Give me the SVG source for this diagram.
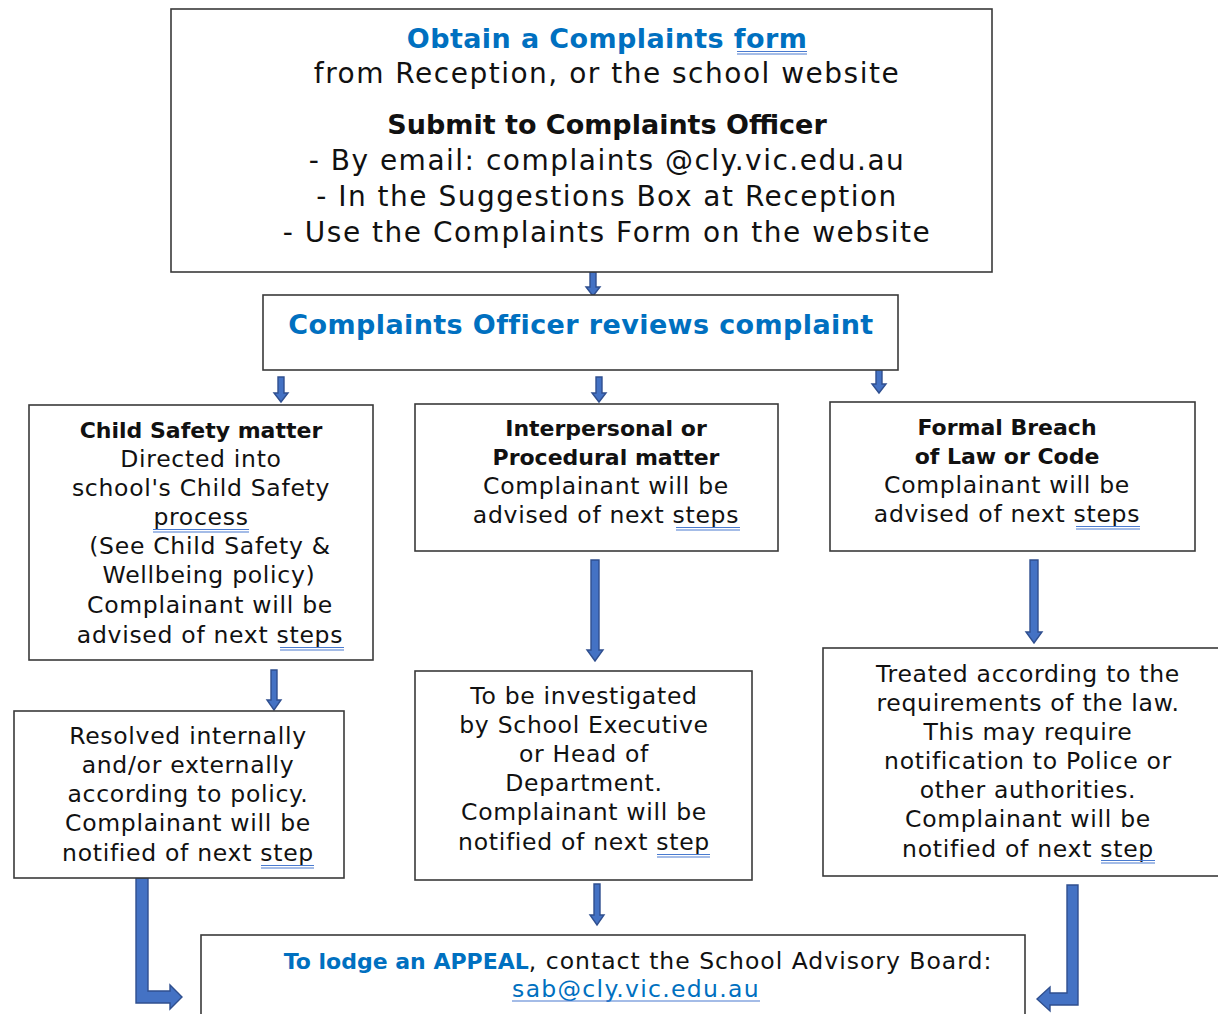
<svg xmlns="http://www.w3.org/2000/svg" width="1218" height="1014" viewBox="0 0 1218 1014">
<style>
.box{fill:#fff;stroke:#3a3a3a;stroke-width:1.6}
text{font-family:"DejaVu Sans","Liberation Sans",sans-serif;text-anchor:middle;fill:#111}
.t1{font-size:28px;letter-spacing:1.5px}
.t1b{font-size:27px;font-weight:bold;letter-spacing:0.4px}
.t2{font-size:23.5px;letter-spacing:0.7px}
.t2b{font-size:22px;font-weight:bold;letter-spacing:0px}
.blue{fill:#0070c0}
.arr{fill:#4472c4;stroke:#2f4f8f;stroke-width:1.4;stroke-linejoin:miter}
.ul{stroke:#4a7bd0;stroke-width:1.2;fill:none}
</style>
<rect width="1218" height="1014" fill="#fff"/>
<g id="connectors">
<path class="arr" d="M590,272 L596,272 L596,287 L600,287 L593,296 L586,287 L590,287 Z"/>
<path class="arr" d="M278,377 L284,377 L284,393 L288,393 L281,402 L274,393 L278,393 Z"/>
<path class="arr" d="M596,377 L602,377 L602,393 L606,393 L599,402 L592,393 L596,393 Z"/>
<path class="arr" d="M876,368 L882,368 L882,384 L886,384 L879,393 L872,384 L876,384 Z"/>
<path class="arr" d="M271,670 L277,670 L277,700 L281,700 L274,710 L267,700 L271,700 Z"/>
<path class="arr" d="M591,560 L599,560 L599,650 L603,650 L595,661 L587,650 L591,650 Z"/>
<path class="arr" d="M1030,560 L1038,560 L1038,632 L1042,632 L1034,643 L1026,632 L1030,632 Z"/>
<path class="arr" d="M594,884 L600,884 L600,915 L604,915 L597,925 L590,915 L594,915 Z"/>
<path class="arr" d="M136,878 L148,878 L148,991 L170,991 L170,985 L182,997 L170,1009 L170,1003 L136,1003 Z"/>
<path class="arr" d="M1067,885 L1078,885 L1078,1005 L1050,1005 L1050,1011 L1037,999 L1050,987 L1050,993 L1067,993 Z"/>
</g>
<g id="node-submit">
<rect class="box" x="171" y="9" width="821" height="263"/>
<text class="t1b blue" x="607" y="48">Obtain a Complaints form</text>
<text class="t1" x="607" y="83">from Reception, or the school website</text>
<text class="t1b" x="607" y="134" style="letter-spacing:0px">Submit to Complaints Officer</text>
<text class="t1" x="607" y="170">- By email: complaints @cly.vic.edu.au</text>
<text class="t1" x="607" y="206">- In the Suggestions Box at Reception</text>
<text class="t1" x="607" y="242">- Use the Complaints Form on the website</text>
<path class="ul" d="M737,51.5 H807 M737,54 H807"/>
</g>
<g id="node-review">
<rect class="box" x="263" y="295" width="635" height="75"/>
<text class="t1b blue" x="581" y="334">Complaints Officer reviews complaint</text>
</g>
<g id="node-child">
<rect class="box" x="29" y="405" width="344" height="255"/>
<text class="t2b" x="201" y="438">Child Safety matter</text>
<text class="t2" x="201" y="467">Directed into</text>
<text class="t2" x="201" y="496">school's Child Safety</text>
<text class="t2" x="201" y="525">process</text>
<text class="t2" x="210" y="554">(See Child Safety &amp;</text>
<text class="t2" x="209" y="583">Wellbeing policy)</text>
<text class="t2" x="210" y="613">Complainant will be</text>
<text class="t2" x="210" y="643">advised of next steps</text>
<path class="ul" d="M153,529.5 H249 M153,532 H249 M280,647.5 H344 M280,650 H344"/>
</g>
<g id="node-interpersonal">
<rect class="box" x="415" y="404" width="363" height="147"/>
<text class="t2b" x="606" y="436">Interpersonal or</text>
<text class="t2b" x="606" y="465">Procedural matter</text>
<text class="t2" x="606" y="494">Complainant will be</text>
<text class="t2" x="606" y="523">advised of next steps</text>
<path class="ul" d="M676,527.5 H740 M676,530 H740"/>
</g>
<g id="node-breach">
<rect class="box" x="830" y="402" width="365" height="149"/>
<text class="t2b" x="1007" y="435">Formal Breach</text>
<text class="t2b" x="1007" y="464">of Law or Code</text>
<text class="t2" x="1007" y="493">Complainant will be</text>
<text class="t2" x="1007" y="522">advised of next steps</text>
<path class="ul" d="M1076,526.5 H1140 M1076,529 H1140"/>
</g>
<g id="node-resolved">
<rect class="box" x="14" y="711" width="330" height="167"/>
<text class="t2" x="188" y="744">Resolved internally</text>
<text class="t2" x="188" y="773">and/or externally</text>
<text class="t2" x="188" y="802">according to policy.</text>
<text class="t2" x="188" y="831">Complainant will be</text>
<text class="t2" x="188" y="861">notified of next step</text>
<path class="ul" d="M261,865.5 H314 M261,868 H314"/>
</g>
<g id="node-investigated">
<rect class="box" x="415" y="671" width="337" height="209"/>
<text class="t2" x="584" y="704">To be investigated</text>
<text class="t2" x="584" y="733">by School Executive</text>
<text class="t2" x="584" y="762">or Head of</text>
<text class="t2" x="584" y="791">Department.</text>
<text class="t2" x="584" y="820">Complainant will be</text>
<text class="t2" x="584" y="850">notified of next step</text>
<path class="ul" d="M657,854.5 H710 M657,857 H710"/>
</g>
<g id="node-treated">
<rect class="box" x="823" y="648" width="400" height="228"/>
<text class="t2" x="1028" y="682">Treated according to the</text>
<text class="t2" x="1028" y="711">requirements of the law.</text>
<text class="t2" x="1028" y="740">This may require</text>
<text class="t2" x="1028" y="769">notification to Police or</text>
<text class="t2" x="1028" y="798">other authorities.</text>
<text class="t2" x="1028" y="827">Complainant will be</text>
<text class="t2" x="1028" y="857">notified of next step</text>
<path class="ul" d="M1101,860.5 H1155 M1101,863 H1155"/>
</g>
<g id="node-appeal">
<rect class="box" x="201" y="935" width="824" height="90"/>
<text class="t2" x="638" y="969" style="letter-spacing:1px"><tspan class="t2b blue">To lodge an APPEAL</tspan>, contact the School Advisory Board:</text>
<text class="t2 blue" x="636" y="997" style="letter-spacing:1.3px">sab@cly.vic.edu.au</text>
<path class="ul" d="M512,1001 H760"/>
</g>
</svg>
